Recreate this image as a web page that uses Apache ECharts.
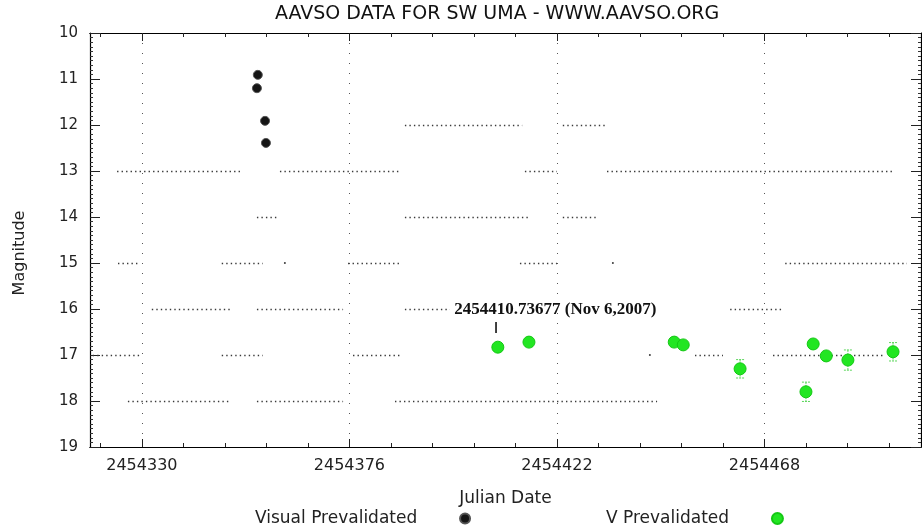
<!DOCTYPE html>
<html>
<head>
<meta charset="utf-8">
<title>AAVSO DATA FOR SW UMA</title>
<script src="https://cdn.jsdelivr.net/npm/echarts@6/dist/echarts.min.js"></script>
<style>
  html, body { margin: 0; padding: 0; background: #fff; }
  #chart { width: 922px; height: 531px; }
</style>
</head>
<body>
<div id="chart"></div>
<script>
// axis ticks (Julian Date)
var jdTicks = [2454330, 2454376, 2454422, 2454468]
var jdMinorTicks = [2454320.8, 2454339.2, 2454348.4, 2454357.6, 2454366.8, 2454385.2, 2454394.4, 2454403.6,
  2454412.8, 2454431.2, 2454440.4, 2454449.6, 2454458.8, 2454477.2, 2454486.4, 2454495.6]
var jdMin = 2454318.5
var jdMax = 2454502.7

// Visual Prevalidated
var visualJD = [2454355.7, 2454355.5, 2454357.3, 2454357.5]
var visualMag = [10.91, 11.20, 11.91, 12.39]

// V Prevalidated (with error)
var vJD = [2454408.9, 2454415.8, 2454448.0, 2454450.0, 2454462.6, 2454477.2, 2454478.8, 2454481.7, 2454486.5, 2454496.5]
var vMag = [16.83, 16.72, 16.72, 16.78, 17.30, 17.80, 16.76, 17.02, 17.11, 16.93]
var vErr = [0, 0, 0, 0, 0.2, 0.21, 0, 0, 0.22, 0.2]

// fainter-than observations, runs of daily dots
var runMag = [12, 12, 13, 13, 13, 13, 14, 14, 14, 15, 15, 15, 15, 15, 16, 16, 16, 16, 17, 17, 17, 17, 17, 18, 18, 18]
var runFrom = [2454388.3, 2454423.3, 2454324.5, 2454360.6, 2454414.9, 2454433.1, 2454355.5, 2454388.3, 2454423.3,
  2454324.7, 2454347.7, 2454375.7, 2454413.8, 2454472.6, 2454332.2, 2454355.5, 2454388.3, 2454460.4,
  2454319.1, 2454347.7, 2454376.8, 2454452.6, 2454469.9, 2454326.9, 2454355.5, 2454386.1]
var runTo = [2454414.3, 2454433.1, 2454352.4, 2454387.2, 2454422.0, 2454496.5, 2454359.9, 2454415.6, 2454430.9,
  2454329.1, 2454356.8, 2454387.2, 2454422.0, 2454499.6, 2454349.5, 2454374.6, 2454398.3, 2454471.9,
  2454329.6, 2454356.8, 2454387.2, 2454458.8, 2454494.7, 2454349.5, 2454374.6, 2454444.2]
var singleJD = [2454361.7, 2454434.4, 2454442.6]
var singleMag = [15, 15, 17]

// note on the plot
var noteJD = 2454408.5
var noteMag = 16.4
var noteText = '2454410.73677 (Nov 6,2007)'

var font = 'DejaVu Sans'

var visualData = visualJD.map(function (x, i) { return [x, visualMag[i]] })
var vData = vJD.map(function (x, i) { return [x, vMag[i]] })
var errData = []
vJD.forEach(function (x, i) {
  if (vErr[i] > 0) errData.push([x, vMag[i] - vErr[i], vMag[i] + vErr[i]])
})
var runData = runMag.map(function (m, i) {
  return { coords: [[runFrom[i], m], [runTo[i], m]] }
})
var singleData = singleJD.map(function (x, i) { return [x, singleMag[i]] })

function xAxisOpt (pos, ticks, len, showLabel) {
  return {
    type: 'value',
    position: pos,
    min: jdMin,
    max: jdMax,
    axisLine: { show: true, onZero: false, lineStyle: { color: '#000', width: 1.2 } },
    axisTick: { show: true, inside: true, length: len, customValues: ticks, lineStyle: { color: '#222' } },
    axisLabel: {
      show: showLabel, customValues: ticks, margin: 11, color: '#222', fontSize: 16, fontFamily: font,
      formatter: function (v) { return String(v) }
    },
    splitLine: { show: false }
  }
}

var xAxes = [
  xAxisOpt('bottom', jdTicks, 8, true),
  xAxisOpt('bottom', jdMinorTicks, 4, false),
  xAxisOpt('top', jdTicks, 8, false),
  xAxisOpt('top', jdMinorTicks, 4, false)
]
xAxes[0].name = 'Julian Date'
xAxes[0].nameLocation = 'middle'
xAxes[0].nameGap = 43
xAxes[0].nameTextStyle = { color: '#222', fontSize: 17, fontFamily: font }
xAxes[0].splitLine = { show: true, lineStyle: { color: '#555', width: 1, type: [1, 9] } }

function yAxisOpt (pos, showLabel) {
  return {
    type: 'value',
    position: pos,
    inverse: true,
    min: 10,
    max: 19,
    interval: 1,
    axisLine: { show: true, lineStyle: { color: '#000', width: 1.2 } },
    axisTick: { show: true, inside: true, length: 10, lineStyle: { color: '#222' } },
    minorTick: { show: true, splitNumber: 10, length: 3, lineStyle: { color: '#333' } },
    axisLabel: { show: showLabel, margin: 12, color: '#222', fontSize: 15, fontFamily: font },
    splitLine: { show: false }
  }
}
var yAxes = [yAxisOpt('left', true), yAxisOpt('right', false)]
yAxes[0].name = 'Magnitude'
yAxes[0].nameLocation = 'middle'
yAxes[0].nameGap = 62
yAxes[0].nameTextStyle = { color: '#222', fontSize: 16, fontFamily: font, padding: [0, 26, 0, 0] }

var option = {
  backgroundColor: '#fff',
  animation: false,
  title: {
    text: 'AAVSO DATA FOR SW UMA - WWW.AAVSO.ORG',
    left: 270,
    top: 0,
    textStyle: { color: '#111', fontSize: 19, fontWeight: 'normal', fontFamily: font }
  },
  grid: { left: 90, right: 1, top: 33, bottom: 84 },
  legend: [{
    data: ['Visual Prevalidated'],
    left: 250,
    top: 505,
    align: 'right',
    itemWidth: 10,
    itemHeight: 10,
    formatter: function (n) { return n + '       ' },
    textStyle: { color: '#222', fontSize: 17, fontFamily: font }
  }, {
    data: ['V Prevalidated'],
    left: 601,
    top: 505,
    align: 'right',
    itemWidth: 11,
    itemHeight: 11,
    formatter: function (n) { return n + '       ' },
    textStyle: { color: '#222', fontSize: 17, fontFamily: font }
  }],
  xAxis: xAxes,
  yAxis: yAxes,
  series: [{
    name: 'fainter',
    type: 'lines',
    coordinateSystem: 'cartesian2d',
    xAxisIndex: 0,
    yAxisIndex: 0,
    polyline: false,
    silent: true,
    lineStyle: { color: '#3a3a3a', width: 1.4, type: [1.4, 3.1], opacity: 1 },
    data: runData
  }, {
    name: 'fainterSingle',
    type: 'scatter',
    symbolSize: 2,
    silent: true,
    itemStyle: { color: '#3a3a3a', opacity: 1 },
    data: singleData
  }, {
    name: 'errors',
    type: 'custom',
    silent: true,
    renderItem: function (params, api) {
      var x = api.value(0)
      var p1 = api.coord([x, api.value(1)])
      var p2 = api.coord([x, api.value(2)])
      var st = { stroke: '#5cd65c', lineWidth: 1, lineDash: [2, 1] }
      return {
        type: 'group',
        children: [
          { type: 'line', shape: { x1: p1[0], y1: p1[1], x2: p2[0], y2: p2[1] }, style: st },
          { type: 'line', shape: { x1: p1[0] - 4, y1: p1[1], x2: p1[0] + 4, y2: p1[1] }, style: st },
          { type: 'line', shape: { x1: p2[0] - 4, y1: p2[1], x2: p2[0] + 4, y2: p2[1] }, style: st }
        ]
      }
    },
    data: errData,
    z: 3
  }, {
    name: 'Visual Prevalidated',
    type: 'scatter',
    symbol: 'circle',
    symbolSize: 9,
    itemStyle: { color: '#151515', borderColor: '#555', borderWidth: 1, opacity: 1 },
    data: visualData,
    z: 4
  }, {
    name: 'V Prevalidated',
    type: 'scatter',
    symbol: 'circle',
    symbolSize: 12,
    itemStyle: { color: '#22e622', borderColor: '#14c814', borderWidth: 1, opacity: 1 },
    data: vData,
    z: 4,
    markPoint: {
      silent: true,
      symbol: 'rect',
      symbolSize: [1.6, 11],
      itemStyle: { color: '#111' },
      label: {
        show: true,
        position: [-41, -12],
        align: 'left',
        verticalAlign: 'middle',
        color: '#111',
        fontSize: 17,
        fontWeight: 'bold',
        fontFamily: 'Liberation Serif',
        formatter: noteText
      },
      data: [{ coord: [noteJD, noteMag] }]
    }
  }]
}

var myChart = echarts.init(document.getElementById('chart'))
myChart.setOption(option)
</script>
</body>
</html>
